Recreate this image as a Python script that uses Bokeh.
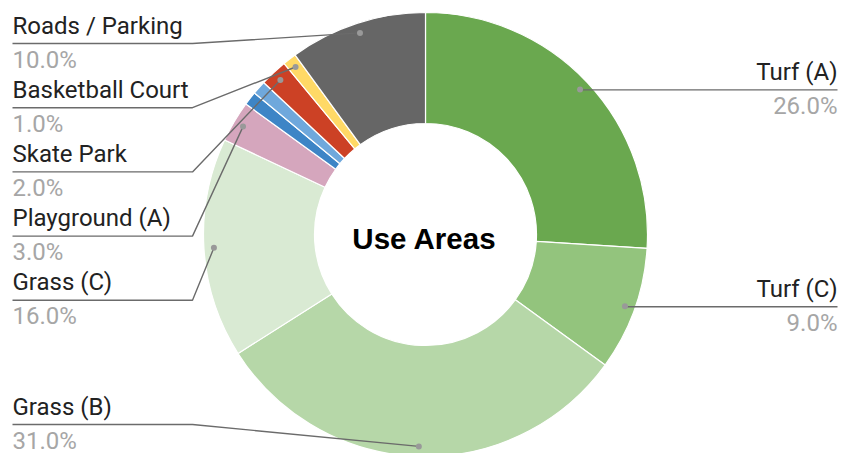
import numpy as np
from bokeh.plotting import figure
from bokeh.models import Range1d, ColumnDataSource
from bokeh.embed import file_html
from bokeh.resources import INLINE
from bokeh.core.properties import value

# ---- data ----
categories = ["Turf (A)", "Turf (C)", "Grass (B)", "Grass (C)", "Playground (A)",
              "Other 1", "Other 2", "Skate Park", "Basketball Court", "Roads / Parking"]
values = [26, 9, 31, 16, 3, 1, 1, 2, 1, 10]
colors = ["#6aa84f", "#93c47d", "#b6d7a8", "#d9ead3", "#d5a6bd",
          "#3d85c6", "#6fa8dc", "#cc4125", "#ffd966", "#666666"]
show_label = [True, True, True, True, True, False, False, True, True, True]
title = "Use Areas"

# ---- layout ----
W, H = 850, 453
CX, CY = 425, 234
R_OUT, R_IN, R_DOT = 222, 111, 212
FONT_SIZE = "24px"

p = figure(width=W, height=H, output_backend="svg", toolbar_location=None,
           x_range=Range1d(0, W), y_range=Range1d(-H, 0),
           x_axis_location=None, y_axis_location=None, min_border=0,
           tools="")
p.grid.visible = False
p.outline_line_color = None
p.background_fill_color = "white"
p.border_fill_color = "white"

vals = np.array(values, dtype=float)
total = vals.sum()
f1 = np.cumsum(vals) / total
f0 = f1 - vals / total
start = np.pi / 2 - 2 * np.pi * f1
end = np.pi / 2 - 2 * np.pi * f0

src = ColumnDataSource(dict(start=start, end=end, color=colors, cat=categories))
p.annular_wedge(x=CX, y=-CY, inner_radius=R_IN, outer_radius=R_OUT,
                start_angle="start", end_angle="end", fill_color="color",
                line_color="white", line_width=1.2, source=src)

mid = (f0 + f1) / 2
theta = np.pi / 2 - 2 * np.pi * mid
dot_x = CX + R_DOT * np.cos(theta)
dot_Y = CY - R_DOT * np.sin(theta)  # screen Y

right_idx = [i for i in range(len(values)) if show_label[i] and mid[i] < 0.5]
left_idx = [i for i in range(len(values)) if show_label[i] and mid[i] >= 0.5]
left_idx.sort(key=lambda i: dot_Y[i])

NAME_OFF, PCT_OFF = 18, 16

line_xs, line_ys = [], []
rt = dict(x=[], yn=[], yp=[], name=[], pct=[])
lt = dict(x=[], yn=[], yp=[], name=[], pct=[])
dots_x, dots_y = [], []

for i in right_idx:
    yl = dot_Y[i] + 0.5
    line_xs.append([dot_x[i], 837])
    line_ys.append([-yl, -yl])
    rt["x"].append(837); rt["yn"].append(-(yl - NAME_OFF)); rt["yp"].append(-(yl + PCT_OFF))
    rt["name"].append(categories[i]); rt["pct"].append(f"{vals[i] / total * 100:.1f}%")
    dots_x.append(dot_x[i]); dots_y.append(-dot_Y[i])

prev = -1e9
for i in left_idx:
    yl = max(min(max(dot_Y[i], 43), 424), prev + 64.2)
    prev = yl
    line_xs.append([12, 192, dot_x[i]])
    line_ys.append([-yl, -yl, -dot_Y[i]])
    lt["x"].append(12); lt["yn"].append(-(yl - NAME_OFF)); lt["yp"].append(-(yl + PCT_OFF))
    lt["name"].append(categories[i]); lt["pct"].append(f"{vals[i] / total * 100:.1f}%")
    dots_x.append(dot_x[i]); dots_y.append(-dot_Y[i])

p.multi_line(xs=line_xs, ys=line_ys, line_color="#6b6b6b", line_width=1.4)
p.scatter(x=dots_x, y=dots_y, size=6, fill_color="#999999", line_color=None)

for d, align in ((rt, "right"), (lt, "left")):
    s = ColumnDataSource(d)
    p.text(x="x", y="yn", text="name", source=s, text_align=align,
           text_baseline="alphabetic", text_font=value("Roboto"),
           text_font_size=FONT_SIZE, text_color="#222222")
    p.text(x="x", y="yp", text="pct", source=s, text_align=align,
           text_baseline="alphabetic", text_font=value("Roboto"),
           text_font_size=FONT_SIZE, text_color="#a6a6a6")

p.text(x=[CX - 1], y=[-238], text=[title], text_align="center", text_baseline="middle",
       text_font=value("Liberation Sans"), text_font_style="bold",
       text_font_size="29.5px", text_color="#000000")

open("out.html", "w").write(file_html(p, INLINE))
